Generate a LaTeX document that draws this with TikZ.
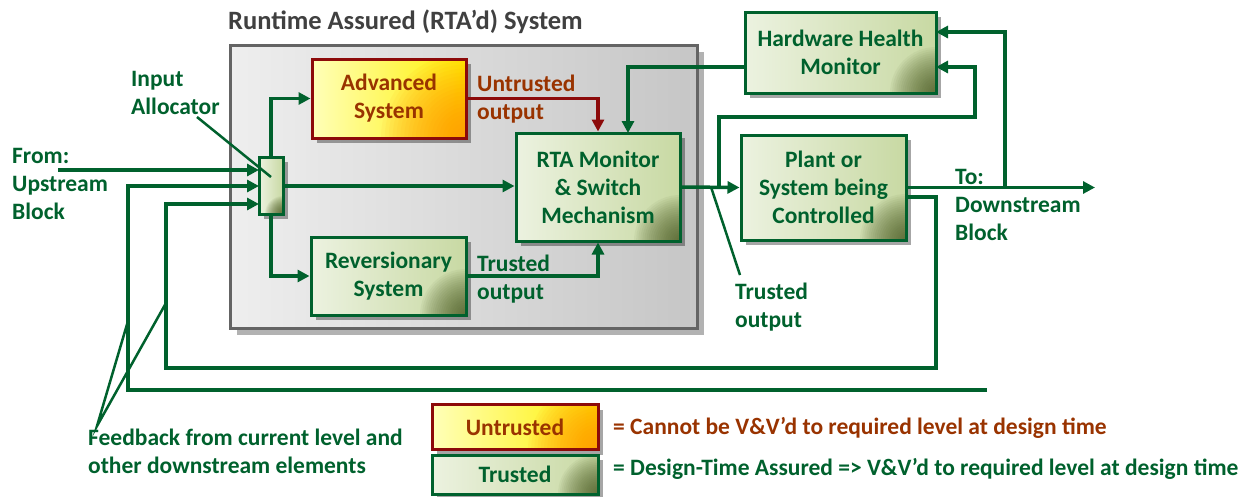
\documentclass[tikz,border=0pt]{standalone}
\usepackage{fontspec}
\setmainfont{Carlito}
\usetikzlibrary{arrows.meta,shadows,calc}
\definecolor{grn}{RGB}{0,97,45}
\definecolor{brn}{RGB}{153,51,0}
\definecolor{dred}{RGB}{140,10,10}
\definecolor{ttlgray}{RGB}{64,64,64}
\definecolor{glight}{RGB}{236,242,224}
\definecolor{gmid}{RGB}{200,217,163}
\definecolor{gdark}{RGB}{60,75,20}
\definecolor{ylight}{RGB}{255,255,185}
\definecolor{ymid}{RGB}{255,240,0}
\definecolor{ydark}{RGB}{255,140,0}
\definecolor{grlight}{RGB}{238,238,238}
\definecolor{grdark}{RGB}{198,198,198}
\definecolor{grborder}{RGB}{100,100,100}
\tikzset{
  boxfont/.style={font=\bfseries\fontsize{23.5}{28}\selectfont},
  shad/.style={drop shadow={shadow xshift=5pt,shadow yshift=-5pt,opacity=0.35,fill=black}},
  gbox/.style={shad, draw=grn, line width=3pt, left color=glight, right color=gmid,
    path picture={\foreach \k in {1,...,22}{\fill[gdark, opacity=0.05] (path picture bounding box.south east) circle ({#1*\k/22});}},
    boxfont, text=grn, align=center, inner sep=0pt},
  gbox/.default=46pt,
  ubox/.style={shad, draw=dred, line width=3pt, left color=ylight, right color=ymid,
    path picture={\foreach \k in {1,...,22}{\fill[ydark, opacity=0.06] (path picture bounding box.south east) circle ({#1*\k/22});}},
    boxfont, text=brn, align=center, inner sep=0pt},
  ubox/.default=85pt,
  graybox/.style={drop shadow={shadow xshift=7pt,shadow yshift=-7pt,opacity=0.3,fill=black},
    draw=grborder, line width=3pt, left color=grlight, right color=grdark, inner sep=0pt},
  lbl/.style={boxfont, text=grn, align=left, inner sep=0pt},
  ulbl/.style={boxfont, text=brn, align=left, inner sep=0pt},
  conn/.style={draw=grn, line width=3.5pt},
  arr/.style={conn, -{Triangle[length=12pt,width=12pt]}},
  uarr/.style={draw=dred, line width=3.5pt, -{Triangle[length=12pt,width=12pt]}},
  thin/.style={draw=grn, line width=2.5pt},
}
\begin{document}
\begin{tikzpicture}[x=1pt,y=-1pt]
\useasboundingbox (0,0) rectangle (1247,496);

% outer RTA system box
\node[graybox, minimum width=467pt, minimum height=283pt] (rta) at (463.5,186.5) {};
\node[font=\bfseries\fontsize{26.5}{30}\selectfont, text=ttlgray, anchor=west, inner sep=0pt] (ttl) at (228,22) {Runtime Assured (RTA’d) System};

% blocks
\node[ubox, minimum width=154pt, minimum height=79pt] (adv) at (389,98.5) {Advanced\\System};
\node[gbox, minimum width=164pt, minimum height=108pt] (mon) at (598,187) {RTA Monitor\\\& Switch\\Mechanism};
\node[gbox, minimum width=155pt, minimum height=78pt] (rev) at (388.5,276) {Reversionary\\System};
\node[gbox=18pt, minimum width=24pt, minimum height=57pt] (alloc) at (271,185.5) {};
\node[gbox, minimum width=191pt, minimum height=81pt] (hhm) at (840.5,52.5) {Hardware Health\\Monitor};
\node[gbox, minimum width=165pt, minimum height=105pt] (plant) at (823.5,187.5) {Plant or\\System being\\Controlled};

% legend
\node[ubox=70pt, minimum width=166pt, minimum height=45pt] (leg1) at (515,427) {Untrusted};
\node[gbox=40pt, minimum width=166pt, minimum height=39pt] (leg2) at (515,474.5) {Trusted};
\node[ulbl, anchor=west] (leg1t) at (613,428) {= Cannot be V\&V’d to required level at design time};
\node[lbl, anchor=west] (leg2t) at (613,469) {= Design-Time Assured => V\&V’d to required level at design time};

% text labels
\node[lbl, anchor=west] (ialbl) at (131,93) {Input\\Allocator};
\node[lbl, anchor=west] (fromlbl) at (12,184) {From:\\Upstream\\Block};
\node[ulbl, anchor=west] (utlbl) at (477,99) {Untrusted\\output};
\node[lbl, anchor=west] (tlbl) at (477,279) {Trusted\\output};
\node[lbl, anchor=west] (tlbl2) at (735,307) {Trusted\\output};
\node[lbl, anchor=west] (tolbl) at (955,205) {To:\\Downstream\\Block};
\node[lbl, anchor=west] (fblbl) at (88,451) {Feedback from current level and\\other downstream elements};

% coordinates
\coordinate (up) at (58,170);
\coordinate (inA) at (259,170);
\coordinate (inB) at (259,186);
\coordinate (inC) at (259,204);
\coordinate (fb1s) at (987,390);
\coordinate (fb1c) at (128,390);
\coordinate (p2s) at (906,197);
\coordinate (p2c) at (936,368);
\coordinate (fb2c) at (166,368);
\coordinate (monin) at (628,133);
\coordinate (hhmL) at (745,67);
\coordinate (br1) at (719,187);
\coordinate (br1t) at (975,117);
\coordinate (hhmR1) at (936,67);
\coordinate (out) at (1095,187.5);
\coordinate (br2) at (1005,187.5);
\coordinate (hhmR2) at (936,32);
\coordinate (ia1) at (197,117);
\coordinate (ia2) at (271,177);
\coordinate (to1) at (711,187);
\coordinate (to2) at (740,275);
\coordinate (fbp) at (97,426);
\coordinate (fbq1) at (128,321);
\coordinate (fbq2) at (166,303);

% connectors
\draw[arr] (up) -- (inA);
\draw[arr] (fb1s) -- (fb1c) |- (inB);
\draw[arr] (p2s) -| (p2c) -| (fb2c) |- (inC);
\draw[arr] (alloc.north) |- (adv.west);
\draw[arr] (alloc.south) |- (rev.west);
\draw[arr] (alloc.east |- inB) -- (mon.west |- inB);
\draw[uarr] (adv.east) -| (mon.north);
\draw[arr] (rev.east) -| (mon.south);
\draw[arr] (hhmL) -| (monin);
\draw[arr] (mon.east) -- (plant.west);
\draw[arr] (br1) |- (br1t) |- (hhmR1);
\draw[arr] (plant.east) -- (out);
\draw[arr] (br2) |- (hhmR2);

% leader lines
\draw[thin] (ia1) -- (ia2);
\draw[thin] (to1) -- (to2);
\draw[thin] (fbq1) -- (fbp) -- (fbq2);
\end{tikzpicture}
\end{document}
